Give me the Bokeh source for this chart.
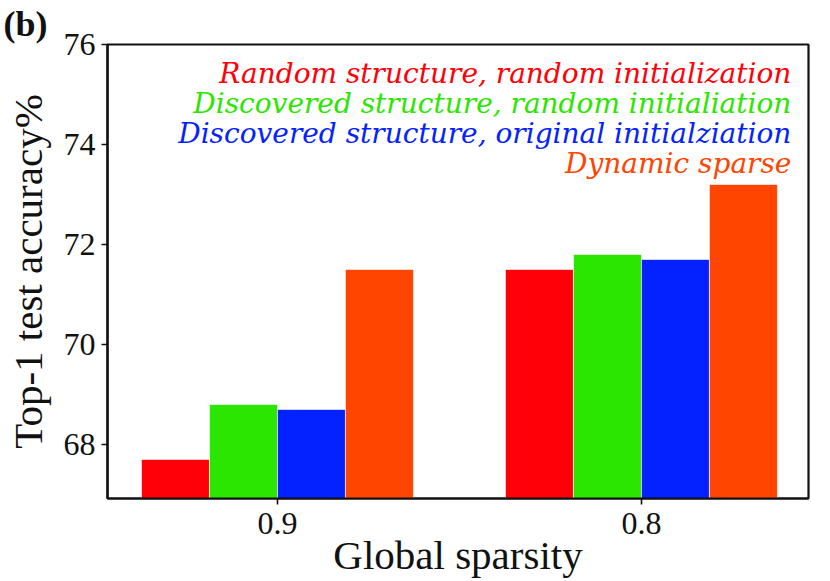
from bokeh.plotting import figure
from bokeh.models import ColumnDataSource, Range1d, FixedTicker, Label
from bokeh.embed import file_html
from bokeh.resources import INLINE

# ---- data ----
categories = ["0.9", "0.8"]
series_names = [
    "Random structure, random initialization",
    "Discovered structure, random initialiation",
    "Discovered structure, original initialziation",
    "Dynamic sparse",
]
random_random = [67.7, 71.5]
discovered_random = [68.8, 71.8]
discovered_original = [68.7, 71.7]
dynamic_sparse = [71.5, 73.2]
series_values = [random_random, discovered_random, discovered_original, dynamic_sparse]
series_colors = ["#FF0008", "#2BE600", "#0422FF", "#FF4500"]
y_ticks = [68, 70, 72, 74, 76]
x_title = "Global sparsity"
y_title = "Top-1 test accuracy%"
panel_tag = "(b)"

# ---- layout parameters ----
bar_w = 0.1868
y_lo, y_hi = 66.92, 76.0
x_lo, x_hi = -0.467, 1.459

p = figure(width=830, height=581,
           x_range=Range1d(x_lo, x_hi), y_range=Range1d(y_lo, y_hi),
           min_border_left=107, min_border_right=22,
           min_border_top=43, min_border_bottom=83,
           output_backend="svg", toolbar_location=None)

for i, (vals, col) in enumerate(zip(series_values, series_colors)):
    xs = [g + (i - 1.5) * bar_w for g in range(len(categories))]
    src = ColumnDataSource(dict(x=xs, top=vals, bottom=[y_lo] * len(vals)))
    p.vbar(x="x", top="top", bottom="bottom", width=bar_w, source=src,
           fill_color=col, line_color="white", line_width=0.6)

p.xgrid.visible = False
p.ygrid.visible = False
p.background_fill_color = "white"
p.border_fill_color = "white"
p.outline_line_color = "#111111"
p.outline_line_width = 2.2

p.xaxis.ticker = FixedTicker(ticks=list(range(len(categories))))
p.xaxis.major_label_overrides = {i: c for i, c in enumerate(categories)}
p.yaxis.ticker = FixedTicker(ticks=y_ticks)

p.xaxis.axis_label = x_title
p.yaxis.axis_label = y_title

for ax in (p.xaxis[0], p.yaxis[0]):
    ax.axis_line_color = "#111111"
    ax.axis_line_width = 2.2
    ax.major_tick_line_color = "#111111"
    ax.major_tick_line_width = 1.6
    ax.major_tick_out = 6
    ax.major_tick_in = 0
    ax.minor_tick_line_color = None
    ax.major_label_text_font = "Liberation Serif"
    ax.major_label_text_font_size = "32px"
    ax.major_label_text_color = "#111111"
    ax.axis_label_text_font = "Liberation Serif"
    ax.axis_label_text_font_size = "41px"
    ax.axis_label_text_font_style = "normal"
    ax.axis_label_text_color = "#111111"

p.yaxis.major_label_standoff = 6
p.yaxis.axis_label_standoff = 10
p.xaxis.major_label_standoff = 8
p.xaxis.axis_label_standoff = -5

# panel tag as the title, shifted to the left corner
p.title.text = panel_tag
p.title.text_font = "Liberation Serif"
p.title.text_font_style = "bold"
p.title.text_font_size = "36px"
p.title.text_color = "#111111"
p.title.align = "left"
p.title.offset = -104
p.title.standoff = 2

# legend-like coloured text, right aligned
legend_x = 1.412
legend_top = 75.42
legend_step = 0.6
for i, (name, col) in enumerate(zip(series_names, series_colors)):
    p.add_layout(Label(x=legend_x, y=legend_top - i * legend_step, text=name,
                       text_align="right", text_baseline="alphabetic",
                       text_color=col, text_font="DejaVu Serif",
                       text_font_style="italic", text_font_size="28px"))

open("out.html", "w").write(file_html(p, INLINE))
